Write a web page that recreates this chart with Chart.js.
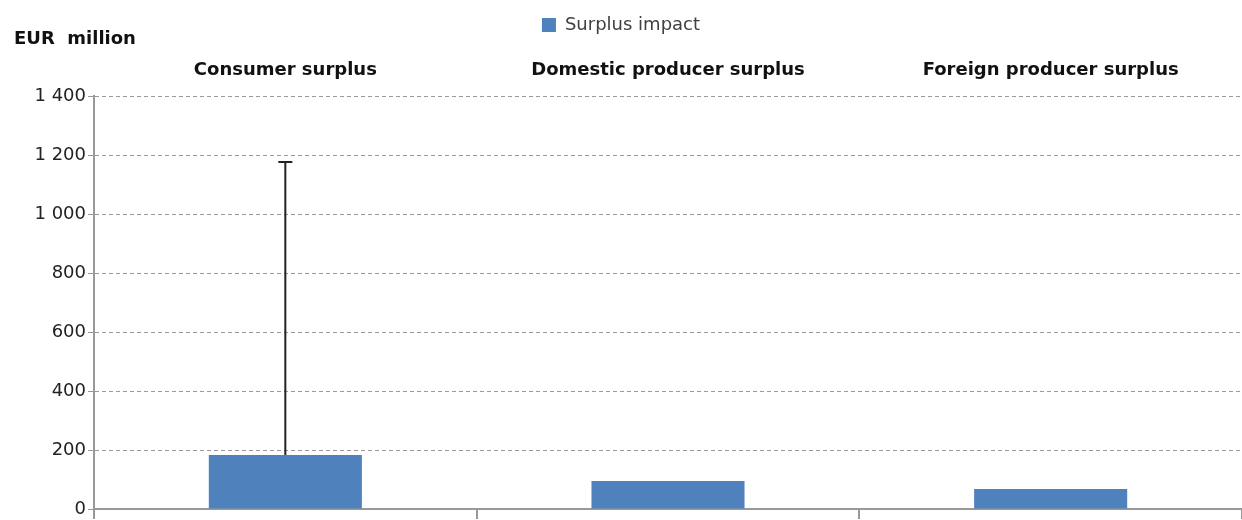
<!DOCTYPE html>
<html>
<head>
<meta charset="utf-8">
<script src="https://cdn.jsdelivr.net/npm/chart.js@4"></script>
<style>
  html, body { margin: 0; padding: 0; background: #fff; }
  #wrap { width: 1242px; height: 520px; }
</style>
</head>
<body>
<div id="wrap"><canvas id="surplusChart"></canvas></div>
<script>
var categories = ["Consumer surplus", "Domestic producer surplus", "Foreign producer surplus"];
var surplusImpact = [183, 95, 68];
var errorHigh = [1176, null, null];
var yTicks = [0, 200, 400, 600, 800, 1000, 1200, 1400];

// draws the upper error whisker and the unit label
var errorBars = {
  id: "errorBars",
  afterDatasetsDraw: function (chart) {
    var ctx = chart.ctx;
    var x = chart.scales.x, y = chart.scales.y;
    ctx.save();
    ctx.strokeStyle = "#222";
    ctx.lineWidth = 2;
    errorHigh.forEach(function (hi, i) {
      if (hi == null) return;
      var px = x.getPixelForValue(i);
      var top = y.getPixelForValue(hi);
      var base = y.getPixelForValue(surplusImpact[i]);
      ctx.beginPath();
      ctx.moveTo(px, base);
      ctx.lineTo(px, top);
      ctx.moveTo(px - 7, top);
      ctx.lineTo(px + 7, top);
      ctx.stroke();
    });
    ctx.fillStyle = "#111";
    ctx.font = "bold 18px 'DejaVu Sans'";
    ctx.textBaseline = "middle";
    ctx.fillText("EUR  million", 14, 39);
    ctx.restore();
  }
};

var ctx = document.getElementById("surplusChart").getContext("2d");
var chart = new Chart(ctx, {
  type: "bar",
  data: {
    labels: categories,
    datasets: [
      {
        label: "Surplus impact",
        data: surplusImpact,
        backgroundColor: "#4F81BD",
        borderWidth: 0,
        barPercentage: 0.4,
        categoryPercentage: 1,
      },
    ],
  },
  options: {
    responsive: true,
    maintainAspectRatio: false,
    animation: false,
    layout: { padding: { left: 0, right: 0, top: 6, bottom: 0 } },
    plugins: {
      legend: {
        position: "top",
        labels: {
          boxWidth: 14,
          boxHeight: 14,
          color: "#404040",
          font: { family: "DejaVu Sans", size: 18 },
          padding: 10,
        },
      },
      tooltip: { enabled: false },
    },
    scales: {
      x: {
        position: "bottom",
        grid: { drawOnChartArea: false, color: "#999", tickLength: 10, lineWidth: 2 },
        border: { color: "#999", width: 2 },
        ticks: { display: false },
        afterFit: function (axis) { axis.height = 11; },
      },
      x2: {
        type: "category",
        position: "top",
        labels: categories,
        grid: { display: false },
        border: { display: false },
        ticks: { color: "#111", font: { family: "DejaVu Sans", size: 18, weight: "bold" }, padding: 7 },
        afterFit: function (axis) { axis.height = 52; },
      },
      y: {
        min: 0,
        max: 1400,
        afterBuildTicks: function (axis) {
          axis.ticks = yTicks.map(function (v) { return { value: v }; });
        },
        afterFit: function (axis) {
          axis.width = 94;
          axis.paddingTop = 0;
          axis.paddingBottom = 0;
        },
        ticks: {
          color: "#222",
          font: { family: "DejaVu Sans", size: 18 },
          padding: 2,
          callback: function (v) {
            return String(v).replace(/\B(?=(\d{3})+(?!\d))/g, " ");
          },
        },
        grid: {
          color: "#999",
          tickColor: "#999",
          tickLength: 6,
          lineWidth: 1,
        },
        border: { color: "#999", width: 2 },
      },
    },
  },
  plugins: [errorBars],
});
// dashed gridlines in the plot area only
chart.options.scales.y.border.dash = [4, 3];
chart.update();
</script>
</body>
</html>
